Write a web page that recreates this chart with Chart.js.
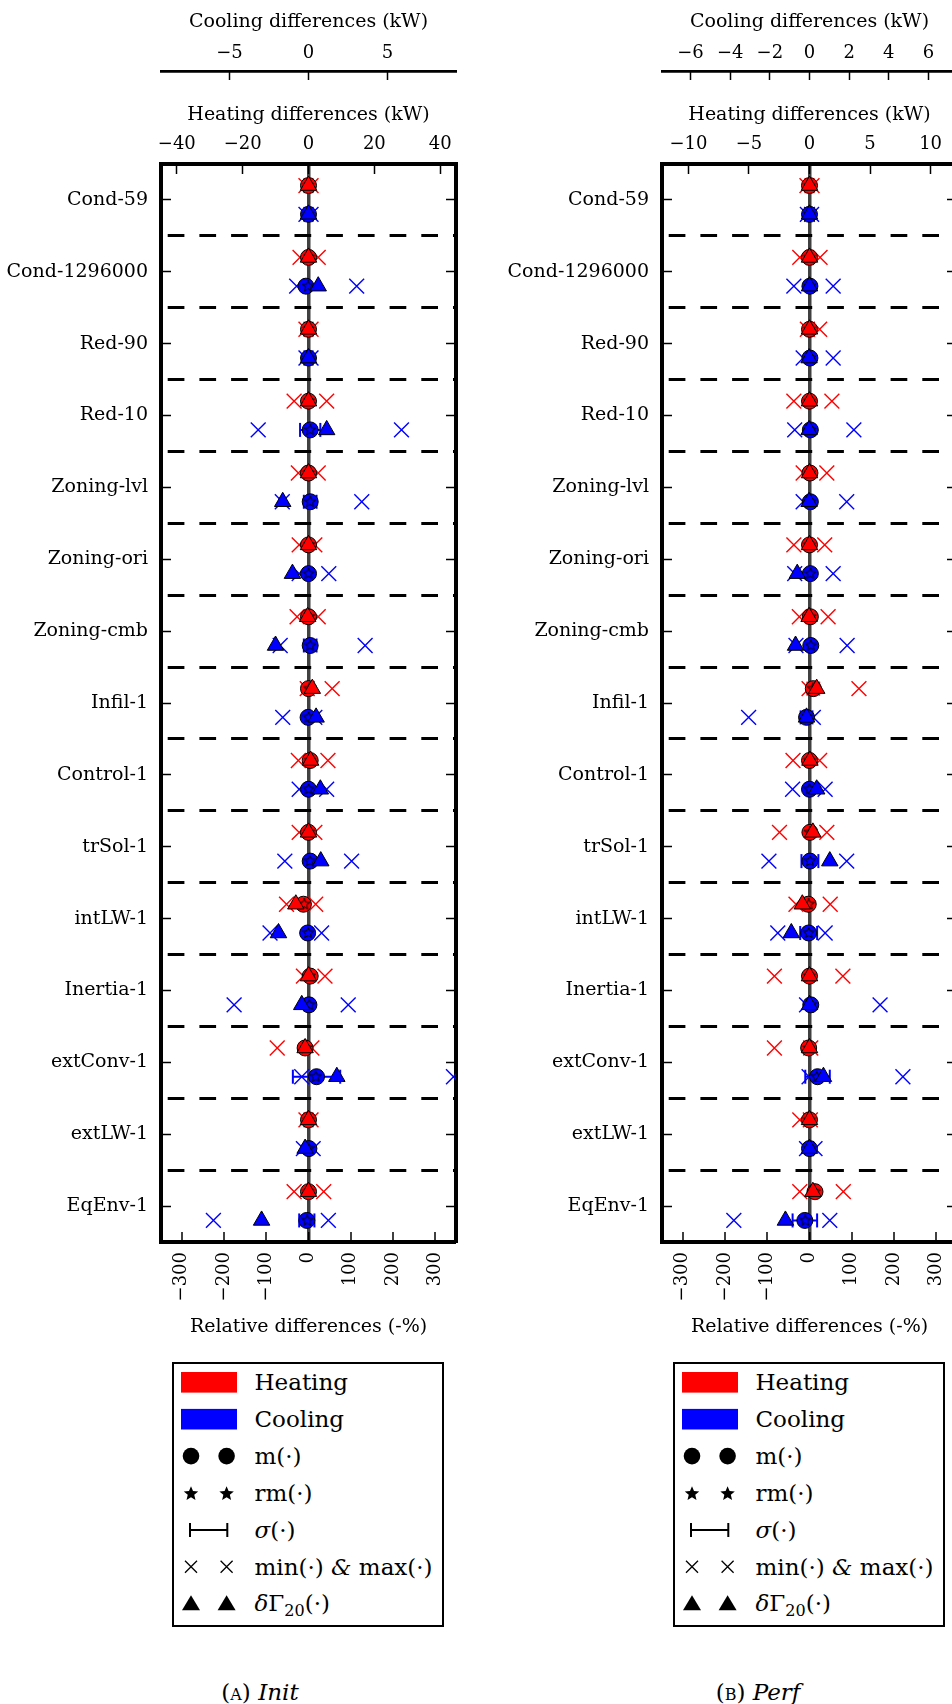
<!DOCTYPE html>
<html>
<head>
<meta charset="utf-8">
<script src="https://cdn.jsdelivr.net/npm/chart.js@4.4.1/dist/chart.umd.min.js"></script>
<style>
  html, body { margin: 0; padding: 0; background: #fff; }
  body { width: 952px; height: 1704px; overflow: hidden; position: relative; font-family: "DejaVu Serif", serif; }
  canvas { position: absolute; top: 0; }
  #chartInit { left: 0; }
  #chartPerf { left: 476px; }
  .legend { position: absolute; top: 1362px; }
  .cap { position: absolute; top: 1677px; width: 200px; text-align: center; font-size: 23px; line-height: 30px; color: #000; }
  .sc { font-variant: small-caps; }
</style>
</head>
<body>
<canvas id="chartInit" width="476" height="1350"></canvas>
<canvas id="chartPerf" width="501" height="1350"></canvas>
<div class="legend" id="legendInit" style="left:172px"></div>
<div class="legend" id="legendPerf" style="left:673px"></div>
<div class="cap" style="left:160px"><span class="sc">(a)</span> <i>Init</i></div>
<div class="cap" style="left:658px"><span class="sc">(b)</span> <i>Perf</i></div>

<script>
// Categories (top to bottom)
const categories = ['Cond-59', 'Cond-1296000', 'Red-90', 'Red-10', 'Zoning-lvl', 'Zoning-ori', 'Zoning-cmb',
  'Infil-1', 'Control-1', 'trSol-1', 'intLW-1', 'Inertia-1', 'extConv-1', 'extLW-1', 'EqEnv-1'];

// Tick labels
const relTicks = [-300, -200, -100, 0, 100, 200, 300];
const initHeatTicks = [-40, -20, 0, 20, 40];
const initCoolTicks = [-5, 0, 5];
const perfHeatTicks = [-10, -5, 0, 5, 10];
const perfCoolTicks = [-6, -4, -2, 0, 2, 4, 6];

// Axis limits
const relMax = 349;
const initHeatMax = 44.8, initCoolMax = 9.33;
const perfHeatMax = 12.18, perfCoolMax = 7.44;

// (A) Init - relative differences (%)
const initHeatMean  = [0, 0, 0, 0, 0, 0, 0, 0, 4, 0, -12, 4, -8, 0, 0];
const initHeatRMean = [0, 1, 0, 1, 0, 1, 1, 2, 4, 1, -10, 3, -6, 0, 0];
const initHeatSd    = [2, 3, 2, 4, 3, 3, 3, 4, 4, 3, 5, 4, 5, 2, 4];
const initHeatMin   = [-6, -20, -6, -34, -24, -22, -27, -3, -24, -22, -52, -12, -74, -6, -34];
const initHeatMaxV  = [6, 23, 6, 43, 23, 15, 23, 56, 46, 15, 17, 39, 8, 6, 36];
const initHeatD20   = [0, 0, 0, 0, 0, 0, -2, 9, 5, 0, -30, 0, -8, 0, 0];

const initCoolMean  = [0, -6, 0, 4, 4, 0, 4, -1, 0, 4, -2, 1, 19, 1, -4];
const initCoolRMean = [0, -1, 0, 4, 4, 0, 4, 0, 0, 3, -1, 2, 17, 1, -3];
const initCoolSd    = [2, 4, 2, 24, 15, 4, 15, 5, 4, 5, 5, 10, 56, 4, 18];
const initCoolMin   = [-6, -28, -6, -119, -62, -22, -67, -61, -22, -56, -91, -176, -16, -12, -225];
const initCoolMaxV  = [6, 114, 6, 220, 126, 48, 134, 15, 43, 102, 31, 94, 343, 11, 47];
const initCoolD20   = [0, 23, 0, 43, -61, -38, -78, 18, 28, 29, -71, -16, 67, -8, -111];

// (B) Perf - relative differences (%)
const perfHeatMean  = [0, 0, 0, 0, 1, 0, 2, 9, 0, 1, -3, 0, -2, 0, 13];
const perfHeatRMean = [0, 0, 0, 0, 1, 0, 2, 8, 0, 1, -2, 0, -2, 0, 12];
const perfHeatSd    = [2, 3, 3, 4, 3, 3, 3, 14, 3, 4, 5, 4, 4, 3, 6];
const perfHeatMin   = [-6, -23, -5, -37, -15, -37, -24, -1, -39, -71, -32, -83, -83, -23, -23];
const perfHeatMaxV  = [6, 25, 24, 53, 41, 36, 44, 117, 24, 41, 49, 79, 3, 2, 80];
const perfHeatD20   = [0, 0, 0, 0, 0, 0, -1, 17, 1, 8, -17, 0, 0, 0, 8];

const perfCoolMean  = [0, 1, 1, 2, 2, 2, 3, -7, 0, 1, -2, 3, 19, 0, -11];
const perfCoolRMean = [0, 1, 1, 2, 2, 2, 3, -6, 0, 1, -2, 3, 17, 0, -10];
const perfCoolSd    = [2, 3, 3, 4, 3, 4, 4, 14, 4, 20, 20, 4, 29, 3, 29];
const perfCoolMin   = [-5, -37, -15, -35, -15, -35, -32, -144, -40, -96, -75, -7, -1, -7, -179];
const perfCoolMaxV  = [5, 56, 56, 105, 88, 56, 89, 9, 37, 88, 37, 167, 221, 13, 48];
const perfCoolD20   = [0, 0, -1, -1, -1, -29, -33, -7, 17, 48, -43, 0, 33, 0, -57];

const legendLabels = [
  'Heating',
  'Cooling',
  'm(·)',
  'rm(·)',
  '<tspan font-style="italic">σ</tspan>(·)',
  'min(·) <tspan font-style="italic">&amp;</tspan> max(·)',
  '<tspan font-style="italic">δ</tspan>Γ<tspan font-size="16" dy="5">20</tspan><tspan dy="-5">(·)</tspan>'
];

const RED = '#ff0000', BLUE = '#0000ff';
const HEAT_OFF = -0.2, COOL_OFF = 0.2;

Chart.defaults.font.family = "'DejaVu Serif', serif";
Chart.defaults.font.size = 18;
Chart.defaults.color = '#000';

const minus = v => String(v).replace('-', '\u2212');
const fixTicks = values => scale => { scale.ticks = values.map(v => ({value: v})); };
const rowTicks = categories.map((c, i) => i);
const sepTicks = categories.slice(1).map((c, i) => i + 0.5);

function makeStar(fill, r) {
  const c = document.createElement('canvas');
  const s = Math.ceil(r * 2 + 4);
  c.width = s; c.height = s;
  const g = c.getContext('2d');
  g.beginPath();
  for (let k = 0; k < 10; k++) {
    const rr = k % 2 ? r * 0.42 : r;
    const a = -Math.PI / 2 + k * Math.PI / 5;
    g.lineTo(s / 2 + rr * Math.cos(a), s / 2 + rr * Math.sin(a));
  }
  g.closePath();
  g.fillStyle = fill;
  g.fill();
  g.lineWidth = 1;
  g.strokeStyle = '#000';
  g.stroke();
  return c;
}

function pts(vals, off) {
  return vals.map((v, i) => ({x: v, y: i + off}));
}

function errPts(mean, sd, off) {
  const out = [];
  mean.forEach((m, i) => {
    out.push({x: m - sd[i], y: i + off}, {x: m + sd[i], y: i + off}, {x: null, y: null});
  });
  return out;
}

function seriesSets(color, off, mean, rmean, sd, lo, hi, d20) {
  return [
    // min & max
    { data: pts(lo, off).concat(pts(hi, off)), pointStyle: 'crossRot', pointRadius: 10.5,
      pointBorderColor: color, pointBorderWidth: 1.4, pointBackgroundColor: 'rgba(0,0,0,0)', order: 5 },
    // sigma error bar
    { data: errPts(mean, sd, off), showLine: true, borderColor: color, borderWidth: 2,
      pointStyle: 'line', pointRotation: 90, pointRadius: 7, pointBorderColor: color, pointBorderWidth: 2, order: 4 },
    // mean
    { data: pts(mean, off), pointStyle: 'circle', pointRadius: 8,
      pointBackgroundColor: color, pointBorderColor: '#000', pointBorderWidth: 1, order: 3 },
    // relative mean
    { data: pts(rmean, off), pointStyle: makeStar(color, 6), pointRadius: 6, order: 2 },
    // delta gamma 20
    { data: pts(d20, off), pointStyle: 'triangle', pointRadius: 9.5,
      pointBackgroundColor: color, pointBorderColor: '#000', pointBorderWidth: 1, order: 1 }
  ].map(d => Object.assign({ clip: 0 }, d));
}

function scalesFor(yWidth, heatMax, coolMax, heatTicks, coolTicks) {
  const box = { display: true, color: '#000', width: 4 };
  const tickGrid = { drawOnChartArea: false, tickLength: -10, tickColor: '#000', tickWidth: 1.5 };
  const titleFont = { size: 19, lineHeight: 1.2 };
  const isZero = c => c.tick && c.tick.value === 0;
  return {
    x: {
      type: 'linear', position: 'bottom', min: -relMax, max: relMax, bounds: 'data',
      afterBuildTicks: fixTicks(relTicks),
      afterFit: s => { s.height = 108; },
      ticks: { callback: minus, minRotation: 90, maxRotation: 90, padding: 20, autoSkip: false,
               font: { size: 18, lineHeight: 1 } },
      grid: { drawOnChartArea: true, color: c => isZero(c) ? '#404040' : 'rgba(0,0,0,0)',
              lineWidth: c => isZero(c) ? 3.5 : 0, tickLength: -10, tickColor: '#000', tickWidth: 1.5 },
      border: box,
      title: { display: true, text: 'Relative differences (-%)', font: titleFont, padding: { top: 0, bottom: 11.6 } }
    },
    xh: {
      axis: 'x', type: 'linear', position: 'top', weight: 0, min: -heatMax, max: heatMax, bounds: 'data',
      afterBuildTicks: fixTicks(heatTicks),
      afterFit: s => { s.height = 93; },
      ticks: { callback: minus, maxRotation: 0, padding: 18.6, autoSkip: false },
      grid: tickGrid,
      border: box,
      title: { display: true, text: 'Heating differences (kW)', font: titleFont, padding: { top: 32.6, bottom: 0 } }
    },
    xc: {
      axis: 'x', type: 'linear', position: 'top', weight: 1, min: -coolMax, max: coolMax, bounds: 'data',
      afterBuildTicks: fixTicks(coolTicks),
      afterFit: s => { s.height = 71; },
      ticks: { callback: minus, maxRotation: 0, padding: 16.3, autoSkip: false },
      grid: { drawOnChartArea: false, tickLength: -9, tickColor: '#000', tickWidth: 1.5 },
      border: { display: true, color: '#000', width: 2.7 },
      title: { display: true, text: 'Cooling differences (kW)', font: titleFont, padding: { top: 10.6, bottom: 0 } }
    },
    y: {
      type: 'linear', position: 'left', min: -0.5, max: 14.5, reverse: true, bounds: 'data',
      afterBuildTicks: fixTicks(rowTicks),
      afterFit: s => { s.width = yWidth; },
      ticks: { callback: v => categories[v], padding: 23, autoSkip: false, font: { size: 19, lineHeight: 1.2 } },
      grid: tickGrid,
      border: box
    },
    yr: {
      axis: 'y', type: 'linear', position: 'right', min: -0.5, max: 14.5, reverse: true, bounds: 'data',
      afterBuildTicks: fixTicks(rowTicks),
      afterFit: s => { s.width = 0; },
      ticks: { display: false },
      grid: tickGrid,
      border: box
    },
    ysep: {
      axis: 'y', type: 'linear', position: 'right', min: -0.5, max: 14.5, reverse: true, bounds: 'data',
      afterBuildTicks: fixTicks(sepTicks),
      afterFit: s => { s.width = 0; },
      ticks: { display: false },
      grid: { drawOnChartArea: true, drawTicks: false, color: '#000', lineWidth: 3 },
      border: { display: false, dash: [16.7, 15], dashOffset: 25 }
    }
  };
}

function buildChart(id, yWidth, datasets, scales) {
  return new Chart(document.getElementById(id), {
    type: 'scatter',
    data: { datasets },
    options: {
      responsive: false,
      animation: false,
      events: [],
      layout: { padding: { left: 0, right: 20, top: 0, bottom: 0 } },
      plugins: { legend: { display: false }, tooltip: { enabled: false }, colors: { enabled: false } },
      scales
    }
  });
}

buildChart('chartInit', 161,
  seriesSets(RED, HEAT_OFF, initHeatMean, initHeatRMean, initHeatSd, initHeatMin, initHeatMaxV, initHeatD20)
    .concat(seriesSets(BLUE, COOL_OFF, initCoolMean, initCoolRMean, initCoolSd, initCoolMin, initCoolMaxV, initCoolD20)),
  scalesFor(161, initHeatMax, initCoolMax, initHeatTicks, initCoolTicks));

buildChart('chartPerf', 186,
  seriesSets(RED, HEAT_OFF, perfHeatMean, perfHeatRMean, perfHeatSd, perfHeatMin, perfHeatMaxV, perfHeatD20)
    .concat(seriesSets(BLUE, COOL_OFF, perfCoolMean, perfCoolRMean, perfCoolSd, perfCoolMin, perfCoolMaxV, perfCoolD20)),
  scalesFor(186, perfHeatMax, perfCoolMax, perfHeatTicks, perfCoolTicks));

// Legend box (same for both panels)
function starPoints(cx, cy, r) {
  const p = [];
  for (let k = 0; k < 10; k++) {
    const rr = k % 2 ? r * 0.45 : r;
    const a = -Math.PI / 2 + k * Math.PI / 5;
    p.push((cx + rr * Math.cos(a)).toFixed(2) + ',' + (cy + rr * Math.sin(a)).toFixed(2));
  }
  return p.join(' ');
}

function legendSvg() {
  const rowY = i => 20.3 + 36.9 * i;
  let s = '<svg width="272" height="266" xmlns="http://www.w3.org/2000/svg">';
  s += '<rect x="1" y="1" width="270" height="263" fill="#fff" stroke="#000" stroke-width="2"/>';
  s += `<rect x="9" y="${rowY(0) - 10.3}" width="56" height="20.6" fill="${RED}"/>`;
  s += `<rect x="9" y="${rowY(1) - 10.3}" width="56" height="20.6" fill="${BLUE}"/>`;
  [19, 54.6].forEach(x => {
    s += `<circle cx="${x}" cy="${rowY(2)}" r="8.3" fill="#000"/>`;
    s += `<polygon points="${starPoints(x, rowY(3) + 0.8, 7.6)}" fill="#000"/>`;
    const y5 = rowY(5);
    s += `<path d="M${x - 6} ${y5 - 6}L${x + 6} ${y5 + 6}M${x - 6} ${y5 + 6}L${x + 6} ${y5 - 6}" stroke="#000" stroke-width="1.3"/>`;
    const y6 = rowY(6);
    s += `<polygon points="${x},${y6 - 8.5} ${x + 9},${y6 + 6.5} ${x - 9},${y6 + 6.5}" fill="#000"/>`;
  });
  const y4 = rowY(4);
  s += `<path d="M18 ${y4}H55.3M18 ${y4 - 7}V${y4 + 7}M55.3 ${y4 - 7}V${y4 + 7}" stroke="#000" stroke-width="2" fill="none"/>`;
  legendLabels.forEach((t, i) => {
    s += `<text x="82.5" y="${rowY(i) + 7.7}" font-family="DejaVu Serif" font-size="23" fill="#000">${t}</text>`;
  });
  s += '</svg>';
  return s;
}

document.getElementById('legendInit').innerHTML = legendSvg();
document.getElementById('legendPerf').innerHTML = legendSvg();
</script>
</body>
</html>
